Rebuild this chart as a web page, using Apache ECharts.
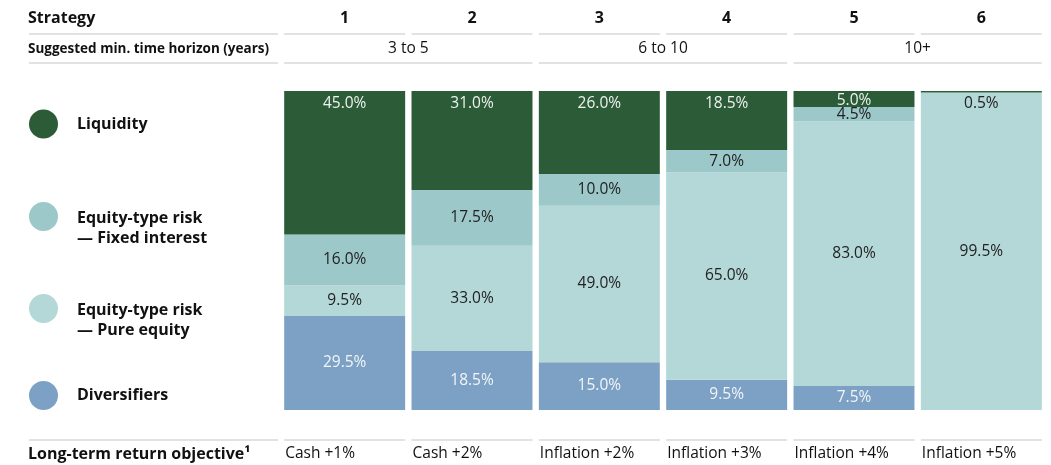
<!DOCTYPE html>
<html lang="en" style="height: 100%">
<head>
  <meta charset="utf-8">
</head>
<body style="height: 100%; margin: 0; background: #fff">
  <div id="container" style="width: 1051px; height: 465px"></div>
  <script src="https://cdn.jsdelivr.net/npm/echarts@6/dist/echarts.min.js"></script>
  <script type="text/javascript">
    // chart data
    var strategies = ['1', '2', '3', '4', '5', '6'];
    var horizonGroups = ['3 to 5', '6 to 10', '10+'];
    var returnObjectives = ['Cash +1%', 'Cash +2%', 'Inflation +2%', 'Inflation +3%', 'Inflation +4%', 'Inflation +5%'];
    var liquidity = [45.0, 31.0, 26.0, 18.5, 5.0, 0.5];
    var fixedInterest = [16.0, 17.5, 10.0, 7.0, 4.5, 0];
    var pureEquity = [9.5, 33.0, 49.0, 65.0, 83.0, 99.5];
    var diversifiers = [29.5, 18.5, 15.0, 9.5, 7.5, 0];

    var FONT = '"Open Sans"';
    var LINE = '#d9d9d9';
    var names = ['Liquidity', 'Equity-type risk\n— Fixed interest', 'Equity-type risk\n— Pure equity', 'Diversifiers'];

    var dom = document.getElementById('container');
    var myChart = echarts.init(dom, null, { renderer: 'canvas' });

    function pct(p) {
      return p.value ? p.value.toFixed(1) + '%' : '';
    }

    function legendFor(name, top, twoLines) {
      return {
        data: [name],
        left: 29,
        top: top,
        orient: 'vertical',
        padding: 0,
        icon: 'circle',
        itemWidth: 29,
        itemHeight: 29,
        selectedMode: false,
        // two-line names get a spacer line so the first line sits level with the dot
        formatter: function (n) {
          return twoLines ? '{s| }\n' + n : n;
        },
        textStyle: {
          fontFamily: FONT,
          fontWeight: 'bold',
          fontSize: 16,
          lineHeight: 20,
          color: '#111',
          padding: [0, 0, 0, 14],
          rich: { s: { fontSize: 1, lineHeight: 23, height: 23 } }
        }
      };
    }

    var labelBase = { show: true, fontFamily: FONT, fontSize: 15.5, formatter: pct };

    var option = {
      animation: false,
      grid: { left: 281, right: 6, top: 91, bottom: 55 },
      xAxis: {
        type: 'category',
        data: strategies,
        axisLine: { show: false },
        axisTick: { show: false },
        axisLabel: { show: false }
      },
      yAxis: { type: 'value', min: 0, max: 100, show: false },
      legend: [
        legendFor(names[0], 109.5, false),
        legendFor(names[1], 185, true),
        legendFor(names[2], 277, true),
        legendFor(names[3], 381, false)
      ],
      series: [
        {
          name: names[3], type: 'bar', stack: 'a', barCategoryGap: '5%',
          itemStyle: { color: '#7ca1c5' },
          label: Object.assign({}, labelBase, { position: 'inside', color: '#f2f5f8' }),
          data: diversifiers
        },
        {
          name: names[2], type: 'bar', stack: 'a',
          itemStyle: { color: '#b4d7d8' },
          label: Object.assign({}, labelBase, { position: 'inside', color: '#222' }),
          data: pureEquity
        },
        {
          name: names[1], type: 'bar', stack: 'a',
          itemStyle: { color: '#9cc8c9' },
          label: Object.assign({}, labelBase, { position: 'inside', color: '#222' }),
          data: fixedInterest
        },
        {
          name: names[0], type: 'bar', stack: 'a',
          itemStyle: { color: '#2c5b37' },
          label: Object.assign({}, labelBase, { position: 'insideTop', distance: 5, color: '#eef2ee' }),
          data: liquidity.map(function (v, i) {
            if (i === 5) return { value: v, label: { color: '#222', distance: 5 } };
            if (i === 4) return { value: v, label: { distance: 2 } };
            return v;
          })
        }
      ]
    };
    myChart.setOption(option);

    // table rows above and below the bars, placed from the category axis
    function tableGraphics() {
      var band = myChart.convertToPixel({ xAxisIndex: 0 }, 1) - myChart.convertToPixel({ xAxisIndex: 0 }, 0);
      var half = band * 0.95 / 2;
      var els = [];
      function hline(x1, x2, y) {
        els.push({ type: 'line', shape: { x1: x1, y1: y, x2: x2, y2: y }, style: { stroke: LINE, lineWidth: 1.6 }, silent: true });
      }
      function text(t, x, y, align, bold, size) {
        els.push({
          type: 'text', x: x, y: y, silent: true,
          style: { text: t, align: align, verticalAlign: 'middle', fontFamily: FONT, fontWeight: bold ? 'bold' : 'normal', fontSize: size, fill: '#111' }
        });
      }
      text('Strategy', 28, 18, 'left', true, 16);
      text('Suggested min. time horizon (years)', 28, 49, 'left', true, 13.5);
      text('Long-term return objective¹', 28, 454, 'left', true, 16);
      hline(29, 278, 34);
      hline(29, 278, 63);
      hline(29, 278, 440);
      strategies.forEach(function (s, i) {
        var c = myChart.convertToPixel({ xAxisIndex: 0 }, i);
        text(s, c, 18, 'center', true, 16);
        hline(c - half, c + half, 34);
        hline(c - half, c + half, 440);
        text(returnObjectives[i], c - half + 1, 454, 'left', false, 15.5);
      });
      horizonGroups.forEach(function (g, k) {
        var a = myChart.convertToPixel({ xAxisIndex: 0 }, k * 2);
        var b = myChart.convertToPixel({ xAxisIndex: 0 }, k * 2 + 1);
        hline(a - half, b + half, 63);
        text(g, (a + b) / 2, 49, 'center', false, 15.5);
      });
      return els;
    }
    myChart.setOption({ graphic: tableGraphics() });

    window.addEventListener('resize', myChart.resize);
  </script>
</body>
</html>
